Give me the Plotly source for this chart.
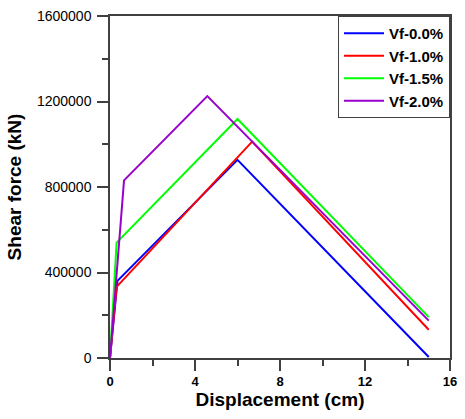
import plotly.graph_objects as go

names = ["Vf-0.0%", "Vf-1.0%", "Vf-1.5%", "Vf-2.0%"]
colors = ["#0000ff", "#ff0000", "#00ff00", "#9900cc"]
disp_00 = [0, 0.35, 6.0, 15.0]
shear_00 = [0, 361000, 927000, 5000]
disp_10 = [0, 0.31, 6.69, 15.0]
shear_10 = [0, 333000, 1012000, 132000]
disp_15 = [0, 0.31, 6.0, 15.0]
shear_15 = [0, 540000, 1118000, 191000]
disp_20 = [0, 0.66, 4.58, 15.0]
shear_20 = [0, 831000, 1225000, 175000]

xs = [disp_00, disp_10, disp_15, disp_20]
ys = [shear_00, shear_10, shear_15, shear_20]

fig = go.Figure()
for n, c, x, y in zip(names, colors, xs, ys):
    fig.add_trace(go.Scatter(x=x, y=y, mode="lines", name=n,
                             line=dict(color=c, width=2)))

axcol = "#404040"
fig.update_layout(
    width=465, height=419,
    margin=dict(l=110, r=8, t=13, b=61),
    paper_bgcolor="white", plot_bgcolor="white",
    font=dict(family="Liberation Sans, Arial", color="black"),
    showlegend=True,
    legend=dict(x=1, y=1, xanchor="right", yanchor="top",
                bordercolor=axcol, borderwidth=1, bgcolor="white",
                font=dict(size=15, family="Liberation Sans, Arial", weight="bold"),
                tracegroupgap=0, itemwidth=40),
    xaxis=dict(range=[0, 16], tickvals=[0, 4, 8, 12, 16],
               showgrid=False, zeroline=False, showline=True,
               linecolor=axcol, linewidth=1.5, mirror=True,
               ticks="outside", ticklen=11, tickcolor=axcol, tickwidth=1.5,
               minor=dict(tickvals=[2, 6, 10, 14], ticks="outside", ticklen=6,
                          tickcolor=axcol, tickwidth=1.5),
               tickfont=dict(size=13, weight="bold"),
               title=dict(text="Displacement (cm)", standoff=2,
                          font=dict(size=19, weight="bold"))),
    yaxis=dict(range=[0, 1600000], tickvals=[0, 400000, 800000, 1200000, 1600000],
               ticktext=["0", "400000", "800000", "1200000", "1600000"],
               showgrid=False, zeroline=False, showline=True,
               linecolor=axcol, linewidth=1.5, mirror=True,
               ticks="outside", ticklen=11, tickcolor=axcol, tickwidth=1.5,
               minor=dict(tickvals=[200000, 600000, 1000000, 1400000], ticks="outside",
                          ticklen=6, tickcolor=axcol, tickwidth=1.5),
               tickfont=dict(size=14),
               ticklabelstandoff=3,
               title=dict(text="Shear force (kN)", standoff=10,
                          font=dict(size=19, weight="bold"))),
)

fig.write_html("out.html")
